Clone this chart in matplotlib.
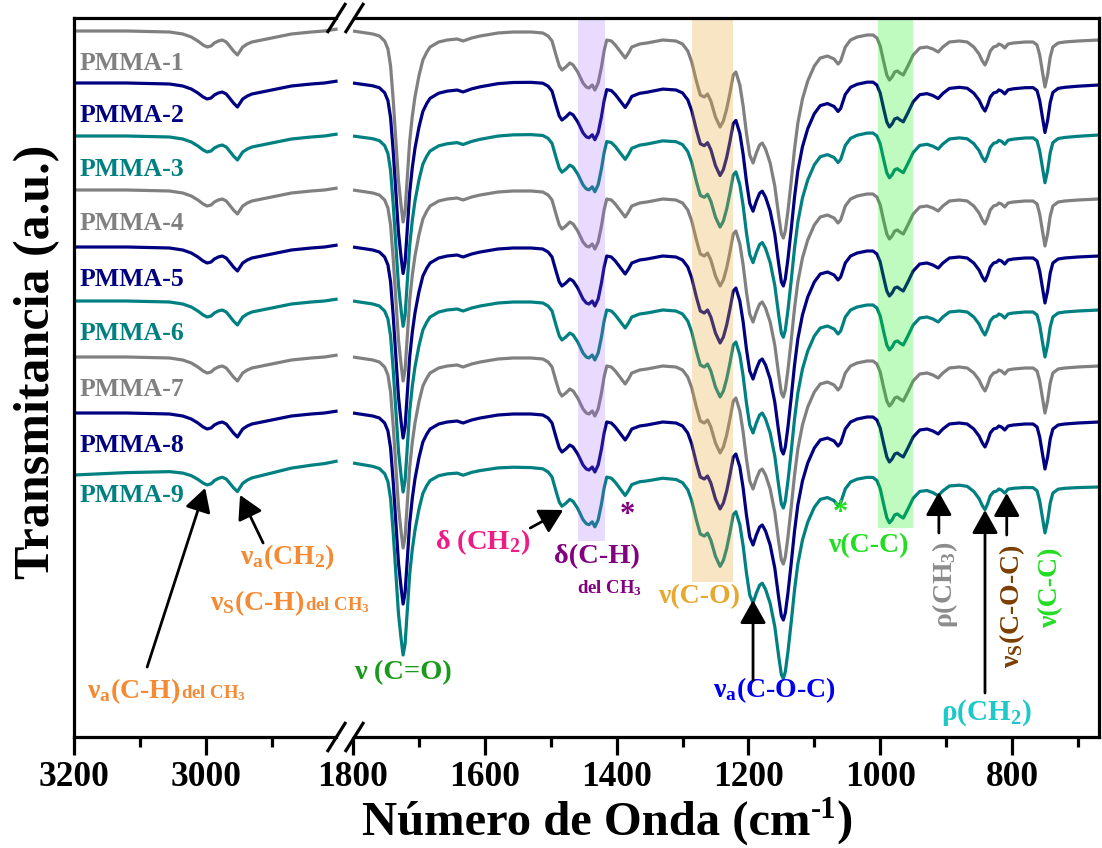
import numpy as np
import matplotlib
matplotlib.use('Agg')
import matplotlib.pyplot as plt

plt.rcParams['font.family'] = ['Liberation Serif', 'DejaVu Serif']
plt.rcParams['font.weight'] = 'bold'
plt.rcParams['mathtext.fontset'] = 'custom'
plt.rcParams['mathtext.rm'] = 'Liberation Serif:bold'
plt.rcParams['mathtext.bf'] = 'Liberation Serif:bold'
plt.rcParams['mathtext.it'] = 'Liberation Serif:bold:italic'
plt.rcParams['mathtext.default'] = 'rm'

# ---------------- data ----------------
samples = ['PMMA-1', 'PMMA-2', 'PMMA-3', 'PMMA-4', 'PMMA-5',
           'PMMA-6', 'PMMA-7', 'PMMA-8', 'PMMA-9']
line_colors = ['#808080', '#000080', '#008080'] * 3
# vertical stacking offsets (a.u.)
offsets = [706, 654, 601, 547, 490, 436, 380, 324, 274]
# baseline drift of each spectrum at 3200 cm-1 and at 668 cm-1 (a.u.)
drift_3200 = [0, 0, 0, 0, 0, 0, 0, 0, 12]
drift_668 = [0, -7, -10, 0, 0, 0, 0, 0, 15]

# high-wavenumber segment (cm-1) and relative transmittance (a.u.)
wn_left = [3200, 3120, 3055, 3035, 3022, 3012, 3004, 2998, 2992, 2987, 2981,
           2975, 2969, 2964, 2958, 2952, 2948, 2944, 2937, 2930, 2915, 2900,
           2885, 2870, 2855, 2840, 2820, 2800]
t_left = [0, 0, -1, -3, -6, -10, -14, -16, -15, -12, -10,
          -9, -11, -15, -20, -24, -20, -16, -13, -11, -9, -7,
          -5, -3, -2, -1, 0, 2]

# fingerprint segment (cm-1) and relative transmittance (a.u.)
wn_right = [1800, 1770, 1760, 1752, 1747, 1743, 1739, 1735, 1731, 1727, 1724,
            1721, 1718, 1714, 1710, 1706, 1700, 1694, 1688, 1683, 1670, 1657,
            1642, 1633, 1620, 1607, 1580, 1557, 1530, 1512, 1504, 1498, 1492,
            1487, 1483, 1477, 1471, 1466, 1459, 1451, 1446, 1442, 1437, 1433,
            1428, 1423, 1419, 1415, 1408, 1402, 1394, 1387, 1382, 1377, 1365,
            1354, 1330, 1310, 1300, 1292, 1286, 1279, 1273, 1267, 1262, 1257,
            1250, 1243, 1238, 1233, 1228, 1223, 1219, 1213, 1208, 1203, 1198,
            1193, 1188, 1183, 1179, 1174, 1167, 1160, 1154, 1150, 1147, 1144,
            1140, 1135, 1130, 1125, 1118, 1110, 1100, 1091, 1080, 1070, 1064,
            1060, 1053, 1045, 1035, 1020, 1011, 1005, 1000, 995, 990, 986,
            982, 978, 974, 970, 965, 958, 950, 940, 929, 920, 912,
            905, 895, 880, 868, 858, 850, 845, 841, 837, 833, 828,
            823, 820, 816, 811, 806, 798, 780, 768, 762, 758, 754,
            750, 746, 742, 738, 730, 720, 700, 668]
t_right = [0, -3, -5, -10, -18, -35, -69, -110, -150, -175, -191,
           -180, -150, -110, -85, -66, -45, -29, -21, -16, -11, -9,
           -8, -10, -7, -5, -2, -1, -1, -2, -5, -10, -24,
           -35, -39, -36, -32, -34, -41, -52, -56, -57, -54, -59,
           -52, -36, -20, -9, -10, -14, -21, -27, -22, -16, -13,
           -12, -9, -10, -13, -20, -31, -50, -64, -66, -63, -70,
           -86, -96, -90, -78, -62, -44, -41, -54, -75, -102, -124,
           -132, -122, -114, -112, -118, -132, -155, -185, -203, -207, -200,
           -180, -150, -118, -92, -68, -50, -35, -27, -25, -28, -33,
           -30, -16, -9, -6, -4, -4, -7, -15, -30, -44, -49,
           -46, -41, -40, -42, -44, -35, -24, -17, -16, -18, -21,
           -16, -11, -10, -11, -16, -23, -30, -34, -28, -20, -16,
           -15, -13, -14, -17, -13, -12, -11, -11, -14, -24, -40,
           -56, -44, -26, -16, -12, -11, -10, -9]

# highlighted band regions (cm-1 high, cm-1 low, lower y in a.u.)
bands_wn = [(1459, 1417), (1286, 1224), (1003, 950)]
bands_ybot = [196, 155, 209]
bands_color = [('#9B5CF6', 0.22), ('#E6AA3C', 0.30), ('#00F000', 0.25)]

major_ticks = [3200, 3000, 1800, 1600, 1400, 1200, 1000, 800]
minor_ticks = [3100, 2900, 1700, 1500, 1300, 1100, 900, 700]

# ---------------- broken axis mapping ----------------
BREAK_HI, BREAK_LO, GAP, WN_END = 2800, 1800, 23.4, 668


def X(w):
    w = np.asarray(w, float)
    return np.where(w >= BREAK_HI, 3200 - w,
                    (3200 - BREAK_HI) + GAP + (BREAK_LO - w))


fig = plt.figure(figsize=(11.02, 8.48), dpi=100)
ax = fig.add_axes([74 / 1102, 111 / 848, 1025 / 1102, 719 / 848])
ax.set_xlim(0, float(X(WN_END)))
ax.set_ylim(0, 719)

wl = np.array(wn_left, float)
wr = np.array(wn_right, float)
fl = (wl - BREAK_HI) / (3200 - BREAK_HI)
fr = (BREAK_LO - wr) / (BREAK_LO - WN_END)
for name, col, off, d0, d1 in zip(samples, line_colors, offsets,
                                  drift_3200, drift_668):
    ax.plot(X(wl), off + np.array(t_left) - d0 * fl, color=col, lw=2.3,
            solid_joinstyle='round', solid_capstyle='butt', zorder=2)
    ax.plot(X(wr), off + np.array(t_right) - d1 * fr, color=col, lw=2.3,
            solid_joinstyle='round', solid_capstyle='butt', zorder=2)
    ax.text(9, off - 33, name, color=col, fontsize=18.5, ha='left',
            va='center', zorder=6)

for (hi, lo), yb, (c, a) in zip(bands_wn, bands_ybot, bands_color):
    ax.fill_between([float(X(hi)), float(X(lo))], yb, 719, color=c,
                    alpha=a, lw=0, zorder=3)

# spines with break
for s in ['top', 'bottom']:
    ax.spines[s].set_visible(False)
for s in ['left', 'right']:
    ax.spines[s].set_linewidth(2.3)
tr = ax.get_xaxis_transform()
xb1, xb2 = 398.3, 425.6
xend = float(X(WN_END))
for yy in (0, 1):
    ax.plot([0, xb1], [yy, yy], color='k', lw=2.3, transform=tr,
            clip_on=False, solid_capstyle='projecting', zorder=7)
    ax.plot([xb2, xend], [yy, yy], color='k', lw=2.3, transform=tr,
            clip_on=False, solid_capstyle='projecting', zorder=7)
    for xc in (xb1, xb2):
        ax.plot([xc - 13, xc + 13], [yy - 0.019, yy + 0.019], color='k',
                lw=2.3, transform=tr, clip_on=False, zorder=7)

ax.set_xticks(X(major_ticks))
ax.set_xticklabels([str(t) for t in major_ticks])
ax.set_xticks(X(minor_ticks), minor=True)
ax.tick_params(axis='x', which='major', direction='out', length=13,
               width=2.3, labelsize=25.5, pad=4)
ax.tick_params(axis='x', which='minor', direction='out', length=7, width=2.3)
ax.set_yticks([])

renderer = fig.canvas.get_renderer()


def rich_fig(xc, yb, parts):
    """parts: (string, size, rise_px); centered at xc (px), baseline yb (px from top)."""
    items, total = [], 0.0
    for s, size, rise in parts:
        t = fig.text(0, 0, s, fontsize=size, ha='left', va='baseline',
                     fontweight='bold')
        w = t.get_window_extent(renderer).width
        items.append((t, w, rise))
        total += w
    x = xc - total / 2
    for t, w, rise in items:
        t.set_position((x / 1102, (848 - yb + rise) / 848))
        x += w


rich_fig(607, 835, [('Número de Onda (cm', 35, 0), ('-1', 22, 17), (')', 35, 0)])
fig.text(37 / 1102, 1 - 362 / 848, 'Transmitancia (a.u.)', rotation=90,
         ha='center', va='center', fontsize=36, fontweight='bold')

# ---------------- annotations ----------------


def rich(x, y, parts, color, ha='left'):
    x0, y0 = ax.transData.transform((x, y))
    items, total = [], 0.0
    for s, size in parts:
        t = ax.text(x, y, s, fontsize=size, color=color, ha='left',
                    va='baseline', zorder=6)
        w = t.get_window_extent(renderer).width
        items.append((t, w))
        total += w
    start = x0 - (total / 2 if ha == 'center' else 0)
    inv = ax.transData.inverted()
    for t, w in items:
        t.set_position(inv.transform((start, y0)))
        start += w


def label(x, y, s, color, size=19.5, rot=0):
    ax.text(x, y, s, color=color, fontsize=size, ha='center', va='center',
            rotation=rot, zorder=6)


def arrow(xy_head, xy_tail):
    ax.annotate('', xy=xy_head, xytext=xy_tail,
                arrowprops=dict(arrowstyle='-|>,head_length=0.75,head_width=0.42',
                                color='k', lw=2.0, mutation_scale=19,
                                shrinkA=0, shrinkB=0), zorder=6)


orange = '#F58A33'
rich(19.7, 39, [('ν$_\\mathrm{a}$(C-H) ', 20), ('del CH$_3$', 13.5)], orange)
label(323, 180, 'ν$_\\mathrm{a}$(CH$_2$)', orange, size=20)
rich(206.4, 127, [('ν$_\\mathrm{S}$(C-H) ', 20), ('del CH$_3$', 13.5)], orange)
arrow((float(X(3001)), 249), (float(X(3089)), 70))
arrow((float(X(2948)), 242), (float(X(2913)), 194))

label(float(X(1724)), 64, 'ν (C=O)', '#1A9A1A', size=20.5)
label(float(X(1603)), 195, 'δ (CH$_2$)', '#EE1C84', size=20.5)
arrow((float(X(1481)), 227), (float(X(1531)), 209))
label(float(X(1430)), 180, 'δ(C-H)', '#800080', size=20.5)
label(float(X(1410)), 149, 'del CH$_3$', '#800080', size=13.5)
label(float(X(1384)), 222, '*', '#800080', size=22)
label(float(X(1275)), 140, 'ν(C-O)', '#E6A82E', size=20)
label(float(X(1161)), 47, 'ν$_\\mathrm{a}$(C-O-C)', '#0000EE', size=20)
arrow((float(X(1193)), 137), (float(X(1193)), 57))
label(float(X(1061)), 223, '*', '#22DD22', size=22)
label(float(X(1018)), 191, 'ν(C-C)', '#22DD22', size=20)
label(float(X(902)), 152, 'ρ(CH$_3$)', '#8C8C8C', rot=90, size=20)
arrow((float(X(911)), 245), (float(X(911)), 204))
label(float(X(839)), 24, 'ρ(CH$_2$)', '#1DC8C8', size=21)
arrow((float(X(841)), 227), (float(X(841)), 44))
label(float(X(800)), 131, 'ν$_\\mathrm{S}$(C-O-C)', '#7B3F00', rot=90, size=20)
arrow((float(X(808)), 244), (float(X(808)), 202))
label(float(X(742)), 149, 'ν(C-C)', '#22DD22', rot=90, size=20)

fig.savefig('out.png', dpi=100)
